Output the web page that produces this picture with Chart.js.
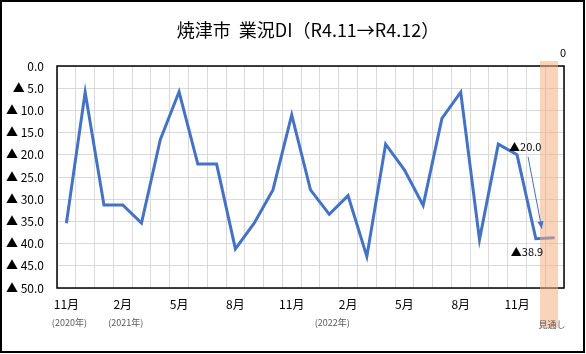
<!DOCTYPE html>
<html>
<head>
<meta charset="utf-8">
<script src="https://cdn.jsdelivr.net/npm/chart.js@4"></script>
<style>
  body { margin: 0; background: #fff; }
</style>
</head>
<body>
<canvas id="myChart" width="586" height="354"></canvas>
<script>
// months from Nov 2020 to Dec 2022 (outlook) plus one spare slot
const categories = ["11月", "12月", "1月", "2月", "3月", "4月", "5月", "6月", "7月", "8月", "9月", "10月",
  "11月", "12月", "1月", "2月", "3月", "4月", "5月", "6月", "7月", "8月", "9月", "10月",
  "11月", "12月", ""];
const yearLabels = {0: "(2020年)", 3: "(2021年)", 14: "(2022年)"};
// DI values shown as ▲ (negative) on a reversed axis
const diValues = [35.4, 5.9, 31.3, 31.3, 35.4, 16.6, 5.8, 22.1, 22.1, 41.2, 35.4, 27.9, 11.0,
  27.9, 33.4, 29.2, 42.9, 17.6, 23.4, 31.4, 11.8, 5.9, 39.1, 17.6, 20.0, 38.9, 38.7];
const yTicks = [0, 5, 10, 15, 20, 25, 30, 35, 40, 45, 50];
const currentIdx = 24;   // R4.11
const outlookIdx = 25;   // R4.12 見通し

const JP = '"Noto Sans CJK JP", "Noto Sans", sans-serif';

const decor = {
  id: "decor",
  beforeDraw(chart) {
    const ctx = chart.ctx;
    ctx.save();
    ctx.fillStyle = "#fff";
    ctx.fillRect(0, 0, chart.width, chart.height);
    ctx.restore();
  },
  afterDatasetsDraw(chart) {
    const { ctx, chartArea: a, scales: { x } } = chart;
    const meta = chart.getDatasetMeta(0);
    ctx.save();

    // plot frame
    ctx.strokeStyle = "#000";
    ctx.lineWidth = 1.5;
    ctx.strokeRect(a.left, a.top, a.right - a.left, a.bottom - a.top);

    // outlook band
    const bl = x.getPixelForValue(outlookIdx + 0.22);
    const br = x.getPixelForValue(outlookIdx + 1.18);
    ctx.fillStyle = "rgba(244,177,131,0.55)";
    ctx.fillRect(bl, a.top - 5, br - bl, 267);

    // outer frame
    ctx.strokeStyle = "#000";
    ctx.lineWidth = 2;
    ctx.strokeRect(1, 1, 583, 351);

    // title
    ctx.fillStyle = "#000";
    ctx.font = "18px " + JP;
    ctx.textBaseline = "middle";
    ctx.textAlign = "center";
    ctx.fillText("焼津市  業況DI（R4.11→R4.12）", 308, 30);

    // year sub labels
    ctx.fillStyle = "#595959";
    ctx.font = "9px " + JP;
    Object.keys(yearLabels).forEach(function(k) {
      ctx.fillText(yearLabels[k], x.getPixelForValue(Number(k)) + 3, 323);
    });
    ctx.fillText("見通し", (bl + br) / 2 + 3, 325);

    // "0" label top right
    ctx.fillStyle = "#000";
    ctx.font = "11px " + JP;
    ctx.fillText("0", 563, 53);

    // value labels
    const p1 = meta.data[currentIdx];
    const p2 = meta.data[outlookIdx];
    ctx.font = "11px " + JP;
    ctx.textAlign = "left";
    ctx.fillText("▲" + diValues[currentIdx].toFixed(1), p1.x - 8, p1.y - 8);
    ctx.fillText("▲" + diValues[outlookIdx].toFixed(1), p2.x - 25, p2.y + 13);

    // arrow
    const sx = p1.x + 11, sy = p1.y + 2, ex = p2.x + 6, ey = p2.y - 10;
    ctx.strokeStyle = "#4472c4";
    ctx.fillStyle = "#4472c4";
    ctx.lineWidth = 1;
    ctx.beginPath();
    ctx.moveTo(sx, sy);
    ctx.lineTo(ex, ey);
    ctx.stroke();
    const ang = Math.atan2(ey - sy, ex - sx);
    ctx.beginPath();
    ctx.moveTo(ex, ey);
    ctx.lineTo(ex - 8 * Math.cos(ang - 0.4), ey - 8 * Math.sin(ang - 0.4));
    ctx.lineTo(ex - 8 * Math.cos(ang + 0.4), ey - 8 * Math.sin(ang + 0.4));
    ctx.closePath();
    ctx.fill();

    ctx.restore();
  }
};

const ctx = document.getElementById("myChart").getContext("2d");

new Chart(ctx, {
  type: "line",
  data: {
    labels: categories,
    datasets: [{
      label: "業況DI",
      data: diValues,
      borderColor: "#4472c4",
      borderWidth: 3,
      pointRadius: 0,
      tension: 0,
      fill: false
    }]
  },
  options: {
    responsive: false,
    animation: false,
    layout: { padding: { top: 66, right: 22, left: 0, bottom: 0 } },
    plugins: {
      legend: { display: false },
      tooltip: { enabled: false },
      title: { display: false }
    },
    scales: {
      x: {
        offset: true,
        grid: { color: "#d9d9d9", offset: true, drawTicks: false },
        border: { display: false },
        ticks: {
          autoSkip: false,
          maxRotation: 0,
          padding: 9,
          color: "#000",
          font: { size: 12, family: JP },
          callback: function(v, i) { return (i % 3 === 0 && i <= currentIdx) ? categories[i] : ""; }
        },
        afterFit: function(s) { s.height = 66; }
      },
      y: {
        reverse: true,
        min: 0,
        max: 50,
        afterBuildTicks: function(s) { s.ticks = yTicks.map(function(v) { return { value: v }; }); },
        grid: { color: "#d9d9d9", drawTicks: false },
        border: { display: false },
        ticks: {
          padding: 13,
          color: "#000",
          font: { size: 12, family: JP },
          callback: function(v) { return v === 0 ? "0.0" : "▲ " + v.toFixed(1); }
        },
        afterFit: function(s) { s.width = 57; }
      }
    }
  },
  plugins: [decor]
});
</script>
</body>
</html>
